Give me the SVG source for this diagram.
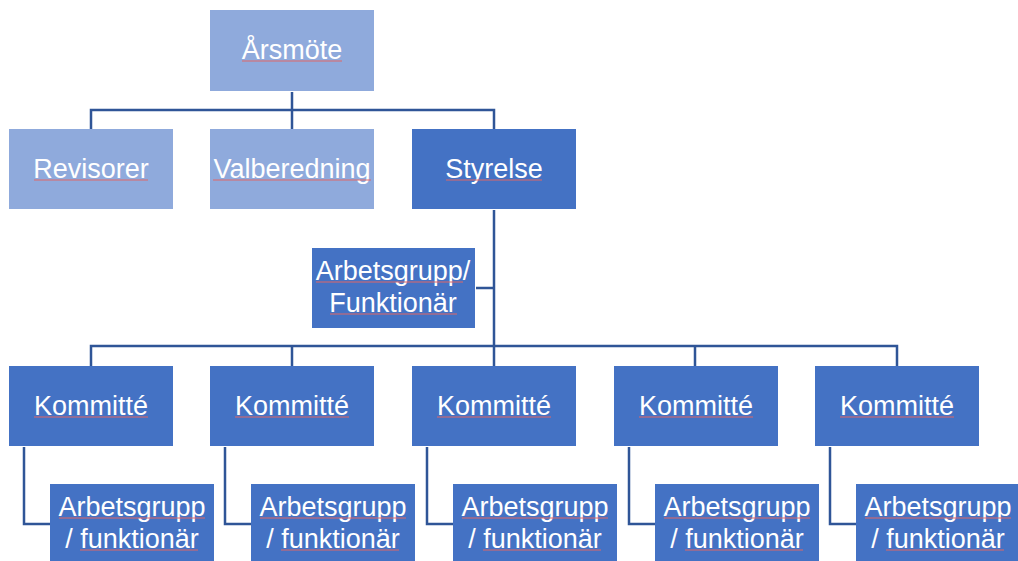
<svg xmlns="http://www.w3.org/2000/svg" width="1018" height="561" viewBox="0 0 1018 561">
<style>
.light{fill:#8FAADC}
.dark{fill:#4472C4}
.t{font-family:"Liberation Sans",Arial,sans-serif;font-size:27px;fill:#fff;text-anchor:middle}
.c{fill:none;stroke:#2F5597;stroke-width:2.5}
.sq{stroke:#E06666;stroke-width:1;fill:none}
</style>
<rect width="1018" height="561" fill="#fff"/>
<g id="connectors">
<path class="c" d="M292,92 V129 M91,129 V110 H494 V129"/>
<path class="c" d="M494,210 V366 M476,288 H494"/>
<path class="c" d="M91,366 V346 H897 V366 M292,346 V366 M695,346 V366"/>
<path class="c" d="M24,447 V524 H50 M225,447 V524 H251 M427,447 V524 H453 M629,447 V524 H655 M830,447 V524 H856"/>
</g>
<g id="arsmote"><rect class="light" x="210" y="10" width="164" height="81"/><text class="t" x="292" y="59">Årsmöte</text><path class="sq" d="M242,61 H342"/></g>
<g id="revisorer"><rect class="light" x="9" y="129" width="164" height="80"/><text class="t" x="91" y="178">Revisorer</text><path class="sq" d="M34,180 H148"/></g>
<g id="valberedning"><rect class="light" x="210" y="129" width="164" height="80"/><text class="t" x="292" y="178">Valberedning</text><path class="sq" d="M213,180 H371"/></g>
<g id="styrelse"><rect class="dark" x="412" y="129" width="164" height="80"/><text class="t" x="494" y="178">Styrelse</text><path class="sq" d="M446,180 H542"/></g>
<g id="arbetsgrupp-funktionar"><rect class="dark" x="312" y="248" width="163" height="80"/><text class="t" x="393" y="280">Arbetsgrupp/</text><text class="t" x="393" y="312">Funktionär</text><path class="sq" d="M316,282 H463 M330,314 H457"/></g>
<g id="kommitte1"><rect class="dark" x="9" y="366" width="164" height="80"/><text class="t" x="91" y="415">Kommitté</text><path class="sq" d="M34,417 H148"/></g>
<g id="kommitte2"><rect class="dark" x="210" y="366" width="164" height="80"/><text class="t" x="292" y="415">Kommitté</text><path class="sq" d="M235,417 H349"/></g>
<g id="kommitte3"><rect class="dark" x="412" y="366" width="164" height="80"/><text class="t" x="494" y="415">Kommitté</text><path class="sq" d="M437,417 H551"/></g>
<g id="kommitte4"><rect class="dark" x="614" y="366" width="164" height="80"/><text class="t" x="696" y="415">Kommitté</text><path class="sq" d="M639,417 H753"/></g>
<g id="kommitte5"><rect class="dark" x="815" y="366" width="164" height="80"/><text class="t" x="897" y="415">Kommitté</text><path class="sq" d="M840,417 H954"/></g>
<g id="arbetsgrupp1"><rect class="dark" x="50" y="484" width="164" height="90"/><text class="t" x="132" y="516">Arbetsgrupp</text><text class="t" x="132" y="548">/ funktionär</text><path class="sq" d="M59,518 H205 M80,550 H198"/></g>
<g id="arbetsgrupp2"><rect class="dark" x="251" y="484" width="164" height="90"/><text class="t" x="333" y="516">Arbetsgrupp</text><text class="t" x="333" y="548">/ funktionär</text><path class="sq" d="M260,518 H406 M281,550 H399"/></g>
<g id="arbetsgrupp3"><rect class="dark" x="453" y="484" width="164" height="90"/><text class="t" x="535" y="516">Arbetsgrupp</text><text class="t" x="535" y="548">/ funktionär</text><path class="sq" d="M462,518 H608 M483,550 H601"/></g>
<g id="arbetsgrupp4"><rect class="dark" x="655" y="484" width="164" height="90"/><text class="t" x="737" y="516">Arbetsgrupp</text><text class="t" x="737" y="548">/ funktionär</text><path class="sq" d="M664,518 H810 M685,550 H803"/></g>
<g id="arbetsgrupp5"><rect class="dark" x="856" y="484" width="164" height="90"/><text class="t" x="938" y="516">Arbetsgrupp</text><text class="t" x="938" y="548">/ funktionär</text><path class="sq" d="M865,518 H1011 M886,550 H1004"/></g>
</svg>
